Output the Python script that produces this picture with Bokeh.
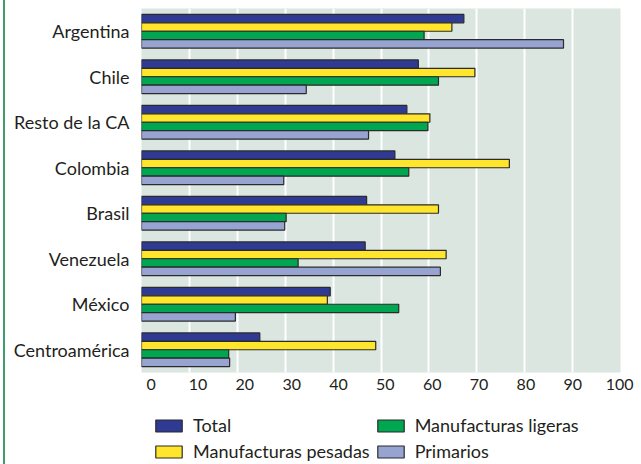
from bokeh.plotting import figure
from bokeh.layouts import column
from bokeh.models import (ColumnDataSource, FactorRange, Range1d, LinearAxis,
                          FixedTicker, Legend, LegendItem)
from bokeh.transform import dodge
from bokeh.embed import file_html
from bokeh.resources import INLINE

countries = ["Argentina", "Chile", "Resto de la CA", "Colombia", "Brasil",
             "Venezuela", "México", "Centroamérica"]
total = [67.3, 57.8, 55.4, 52.9, 47.0, 46.7, 39.4, 24.7]
pesadas = [64.8, 69.6, 60.2, 76.8, 62.0, 63.6, 38.8, 48.9]
ligeras = [59.0, 62.0, 59.8, 55.8, 30.2, 32.7, 53.7, 18.2]
primarios = [88.1, 34.4, 47.4, 29.7, 29.9, 62.4, 19.6, 18.4]
series_names = ["Total", "Manufacturas pesadas", "Manufacturas ligeras", "Primarios"]
x_ticks = [0, 10, 20, 30, 40, 50, 60, 70, 80, 90, 100]

colors = ["#2f3a93", "#ffe52b", "#00a650", "#97a3d1"]
offsets = [0.2775, 0.0925, -0.0925, -0.2775]
FONT = "Lato"
TXT = "#231f20"
EDGE = {"border-left": "2px solid #3d9e6b", "margin-left": "3px"}

src = ColumnDataSource(dict(country=countries, total=total, pesadas=pesadas,
                            ligeras=ligeras, primarios=primarios))

p = figure(width=636, height=400, output_backend="svg", toolbar_location=None,
           y_range=FactorRange(factors=countries[::-1]), x_range=Range1d(0, 100),
           min_border_left=136, min_border_right=21, min_border_top=8,
           min_border_bottom=28)
p.styles = EDGE
p.background_fill_color = "#dae6df"
p.outline_line_color = None

cols = ["total", "pesadas", "ligeras", "primarios"]
for c, col, off in zip(cols, colors, offsets):
    p.hbar(y=dodge("country", off, range=p.y_range), right=c, left=0,
           height=0.185, source=src, fill_color=col,
           line_color="#2b2b2b", line_width=1.2)

# grid
p.xgrid.ticker = FixedTicker(ticks=x_ticks)
p.xgrid.grid_line_color = "white"
p.xgrid.grid_line_width = 2
p.ygrid.grid_line_color = None

# hide default x axis, add label axis
p.xaxis.visible = False
p.extra_x_ranges = {"lab": Range1d(-2.07, 100.2)}
ax = LinearAxis(x_range_name="lab", ticker=FixedTicker(ticks=x_ticks))
ax.axis_line_color = None
ax.major_tick_line_color = None
ax.minor_tick_line_color = None
ax.major_tick_out = 0
ax.major_tick_in = 0
ax.major_label_text_font = FONT
ax.major_label_text_font_size = "16px"
ax.major_label_text_color = TXT
ax.major_label_standoff = 6
p.add_layout(ax, "below")

p.yaxis.axis_line_color = None
p.yaxis.major_tick_line_color = None
p.yaxis.major_label_text_font = FONT
p.yaxis.major_label_text_font_size = "18px"
p.yaxis.major_label_text_color = TXT
p.yaxis.major_label_standoff = 6

# legend figure (frame aligned under the main frame)
lf = figure(width=636, height=64, output_backend="svg", toolbar_location=None,
            x_axis_type=None, y_axis_type=None, min_border=0,
            min_border_left=136, min_border_right=21,
            x_range=Range1d(0, 1), y_range=Range1d(0, 1))
lf.styles = EDGE
lf.outline_line_color = None
lf.xgrid.visible = False
lf.ygrid.visible = False
rs = []
for col in colors:
    rs.append(lf.hbar(y=[-5], right=[0], left=[0], height=0.1, fill_color=col,
                      line_color="#2b2b2b", line_width=1.2))
items = [LegendItem(label=n, renderers=[r], index=0) for n, r in zip(series_names, rs)]
legend = Legend(items=items, location=(11, 2), ncols=2,
                glyph_width=33, glyph_height=15, label_height=14,
                label_standoff=8, spacing=4, padding=0, margin=0,
                border_line_color=None, background_fill_alpha=0,
                label_text_font=FONT, label_text_font_size="18px",
                label_text_color=TXT)
lf.add_layout(legend, "center")

layout = column(p, lf, spacing=0)
open("out.html", "w").write(file_html(layout, INLINE))
